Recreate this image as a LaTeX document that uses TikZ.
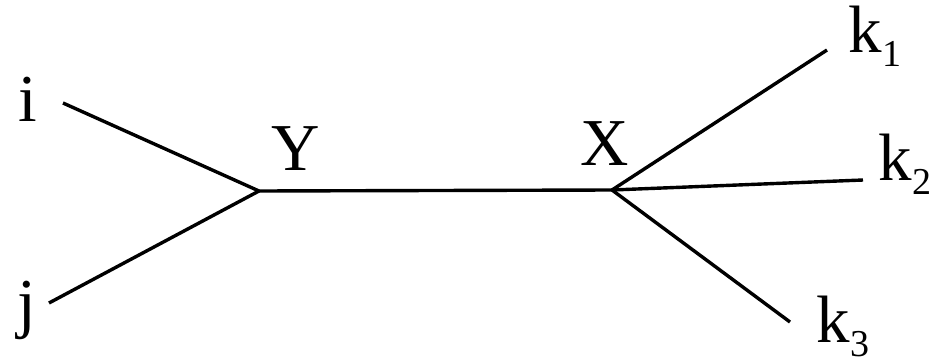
\documentclass[tikz,border=0pt]{standalone}
\usepackage{fontspec}
\setmainfont{Liberation Serif}
\newcommand{\kidx}[1]{k\raisebox{-0.22em}{\fontsize{38}{38}\selectfont #1}}
\begin{document}
\begin{tikzpicture}[x=1pt, y=-1pt, line width=3.4pt,
    lbl/.style={inner sep=0pt, anchor=base, font=\fontsize{67}{67}\selectfont}]
    \useasboundingbox (0,0) rectangle (932,364);
    % junctions and free ends
    \coordinate (Y) at (259,191);
    \coordinate (X) at (612,190);
    \coordinate (ie) at (63,103);
    \coordinate (je) at (49,303);
    \coordinate (k1e) at (827,50);
    \coordinate (k2e) at (863,180);
    \coordinate (k3e) at (790,322);
    % labels
    \node (i) [lbl] at (28,121) {i};
    \node (j) [lbl] at (27,325) {j};
    \node (ylab) [lbl] at (296,170) {Y};
    \node (xlab) [lbl] at (605,165) {X};
    \node (k1) [lbl, anchor=base west] at (847,52) {\kidx{1}};
    \node (k2) [lbl, anchor=base west] at (877,180) {\kidx{2}};
    \node (k3) [lbl, anchor=base west] at (815,342) {\kidx{3}};
    % edges
    \draw (ie) -- (Y);
    \draw (je) -- (Y);
    \draw (Y) -- (X);
    \draw (X) -- (k1e);
    \draw (X) -- (k2e);
    \draw (X) -- (k3e);
\end{tikzpicture}
\end{document}
